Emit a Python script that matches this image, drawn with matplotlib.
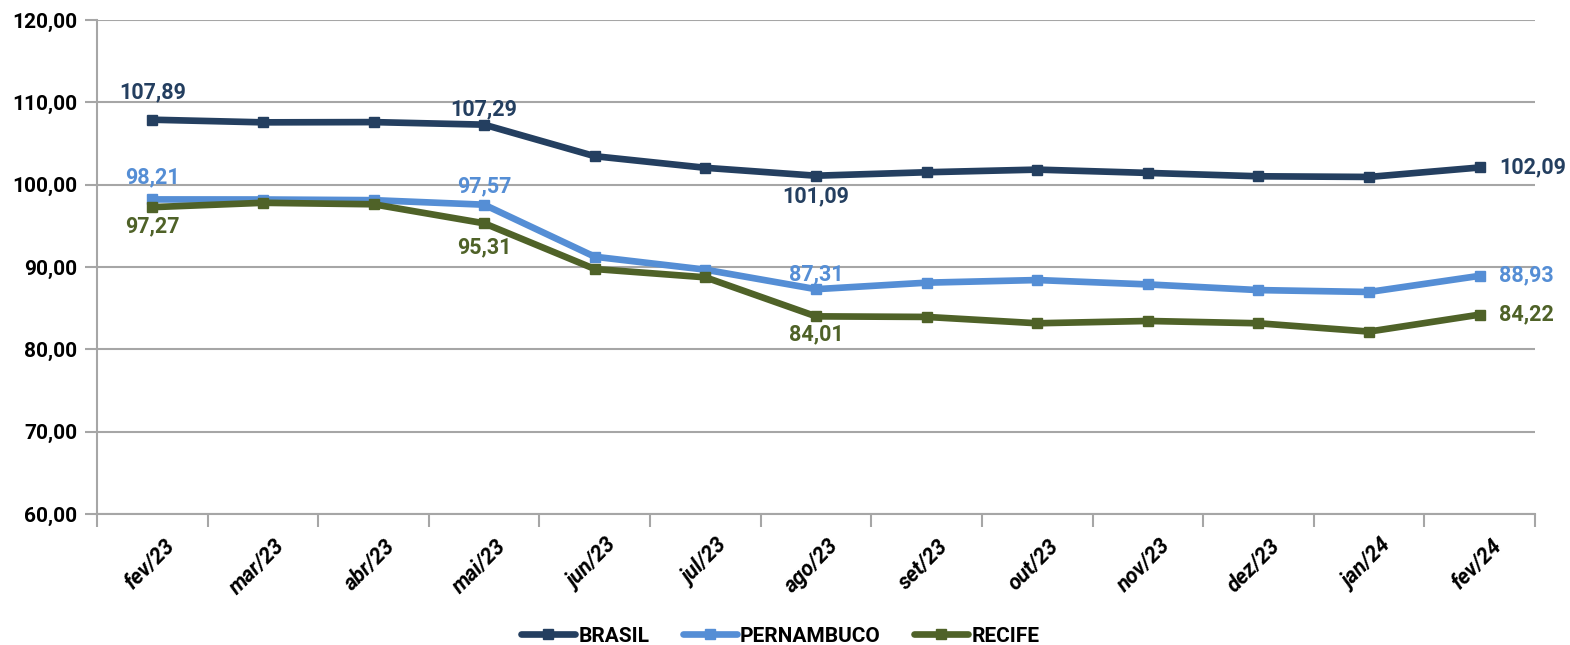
import matplotlib
matplotlib.use("Agg")
import matplotlib.pyplot as plt
import matplotlib.transforms as mtrans
from matplotlib.ticker import FuncFormatter, FixedLocator

months = ["fev/23", "mar/23", "abr/23", "mai/23", "jun/23", "jul/23", "ago/23",
          "set/23", "out/23", "nov/23", "dez/23", "jan/24", "fev/24"]
brasil = [107.89, 107.57, 107.60, 107.29, 103.46, 102.05, 101.09,
          101.51, 101.83, 101.43, 101.02, 100.94, 102.09]
pernambuco = [98.21, 98.20, 98.12, 97.57, 91.25, 89.68, 87.31,
              88.10, 88.42, 87.89, 87.20, 86.97, 88.93]
recife = [97.27, 97.80, 97.62, 95.31, 89.76, 88.75, 84.01,
          83.94, 83.17, 83.45, 83.17, 82.16, 84.22]
series_names = ["BRASIL", "PERNAMBUCO", "RECIFE"]
y_ticks = [60, 70, 80, 90, 100, 110, 120]

colors = ["#243F60", "#558ED5", "#4F6228"]
FONT = "Roboto"

fig = plt.figure(figsize=(15.70, 6.45), dpi=100)
ax = fig.add_axes([0.0618, 0.203, 0.9159, 0.766])

x = list(range(len(months)))
all_series = [brasil, pernambuco, recife]
for name, vals, c in zip(series_names, all_series, colors):
    ax.plot(x, vals, color=c, lw=4.8, marker="s", markersize=6.5,
            solid_joinstyle="round", solid_capstyle="round", label=name, zorder=3)

ax.set_xlim(-0.5, len(months) - 0.5)
ax.set_ylim(60, 120)
ax.set_yticks(y_ticks)
ax.yaxis.set_major_formatter(FuncFormatter(lambda v, p: f"{v:.2f}".replace(".", ",")))
ax.grid(axis="y", color="#A6A6A6", lw=1.5, zorder=0)
ax.set_axisbelow(True)

for s in ["top", "right"]:
    ax.spines[s].set_visible(False)
for s in ["left", "bottom"]:
    ax.spines[s].set_color("#A6A6A6")
    ax.spines[s].set_linewidth(1.5)

ax.tick_params(axis="y", length=9, width=1.5, color="#A6A6A6", pad=5)
for lbl in ax.get_yticklabels():
    lbl.set_fontfamily(FONT)
    lbl.set_fontweight("bold")
    lbl.set_fontsize(15)

ax.set_xticks(x)
ax.set_xticklabels(months, rotation=45, ha="right", rotation_mode="anchor",
                   fontfamily=FONT, fontweight="bold", fontstyle="italic", fontsize=15.5)
ax.tick_params(axis="x", which="major", length=0, pad=15)
offset = mtrans.ScaledTranslation(11 / 100, 0, fig.dpi_scale_trans)
for lbl in ax.get_xticklabels():
    lbl.set_transform(lbl.get_transform() + offset)
ax.xaxis.set_minor_locator(FixedLocator([i - 0.5 for i in range(len(months) + 1)]))
ax.tick_params(axis="x", which="minor", length=9, width=1.5, color="#A6A6A6")


def lab(i, vals, c, dy, dx=0, ha="center", va="center"):
    ax.annotate(f"{vals[i]:.2f}".replace(".", ","), (i, vals[i]), xytext=(dx, dy),
                textcoords="offset points", ha=ha, va=va, color=c,
                fontfamily=FONT, fontweight="bold", fontsize=15.5, zorder=4)


lab(0, brasil, colors[0], 20)
lab(3, brasil, colors[0], 11)
lab(6, brasil, colors[0], -15)
lab(12, brasil, colors[0], 0, dx=14, ha="left")
lab(0, pernambuco, colors[1], 16)
lab(3, pernambuco, colors[1], 13)
lab(6, pernambuco, colors[1], 11)
lab(12, pernambuco, colors[1], 0, dx=14, ha="left")
lab(0, recife, colors[2], -14)
lab(3, recife, colors[2], -17)
lab(6, recife, colors[2], -13)
lab(12, recife, colors[2], 0, dx=14, ha="left")

fig.legend(loc="lower center", bbox_to_anchor=(0.497, -0.03), ncol=3, frameon=False,
           handlelength=2.6, columnspacing=1.6, handletextpad=0.15,
           prop={"family": FONT, "weight": "bold", "size": 15})

fig.savefig("out.png", dpi=100)
